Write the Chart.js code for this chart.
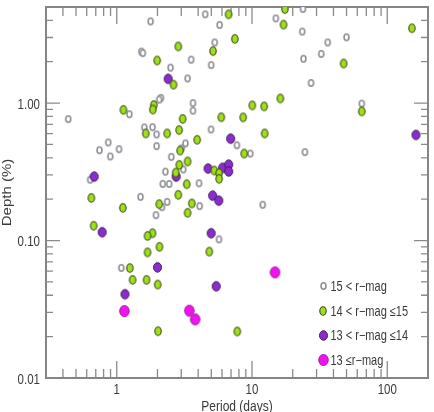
<!DOCTYPE html>
<html>
<head>
<meta charset="utf-8">
<script src="https://cdn.jsdelivr.net/npm/chart.js@4"></script>
<style>
  html, body { margin: 0; padding: 0; background: #fff; }
  canvas { display: block; }
</style>
</head>
<body>
<canvas id="grafico" width="434" height="412"></canvas>
<script>
// 15 < r-mag (circulos abertos cinza)
const periodoCinza = [1.78, 1.52, 1.56, 2.50, 3.34, 3.55, 4.99, 5.30, 4.51, 5.76, 15.0, 23.8, 23.5, 36.3, 49.9, 32.5, 24.0, 27.3, 64.8, 2.12,
    2.06, 3.66, 3.66, 1.24, 0.438, 1.60, 1.84, 1.97, 4.98, 1.97, 0.745, 0.865, 0.896, 1.04, 2.53, 3.22, 3.02, 7.73, 9.71, 24.6,
    3.10, 2.29, 2.19, 2.44, 4.06, 0.636, 1.50, 2.36, 2.16, 4.10, 12.0, 1.95, 5.70, 1.08];
const profCinza = [3.93, 2.37, 2.31, 1.81, 1.51, 2.07, 1.89, 2.76, 4.42, 3.70, 4.13, 4.84, 3.31, 2.76, 3.01, 2.28, 2.10, 1.40, 0.99, 1.09,
    1.06, 1.00, 0.88, 0.83, 0.765, 0.665, 0.668, 0.591, 0.643, 0.486, 0.454, 0.517, 0.409, 0.462, 0.406, 0.509, 0.468, 0.493, 0.429, 0.440,
    0.329, 0.317, 0.258, 0.258, 0.261, 0.277, 0.208, 0.191, 0.175, 0.178, 0.182, 0.153, 0.102, 0.0632];

// 14 < r-mag <= 15 (verde)
const periodoVerde = [1.99, 2.63, 2.85, 5.15, 6.71, 7.47, 17.5, 17.1, 47.6, 152, 64.8, 16.2, 10.05, 12.3, 5.93, 8.60, 3.07, 1.88, 1.85, 1.12,
    3.93, 2.89, 2.36, 1.64, 12.4, 8.75, 2.94, 3.34, 2.90, 2.73, 5.26, 5.71, 5.71, 3.29, 2.85, 0.649, 1.11, 2.06, 3.59, 3.34,
    0.675, 1.84, 1.69, 2.07, 1.69, 4.83, 1.25, 1.31, 1.66, 2.01, 2.02, 7.78];
const profVerde = [2.04, 1.36, 2.58, 2.39, 4.42, 2.93, 4.83, 3.72, 1.94, 3.50, 0.870, 1.08, 0.962, 0.946, 0.788, 0.787, 0.767, 0.967, 0.897, 0.892,
    0.540, 0.636, 0.601, 0.601, 0.601, 0.429, 0.451, 0.376, 0.355, 0.312, 0.323, 0.309, 0.281, 0.257, 0.215, 0.204, 0.173, 0.184, 0.186, 0.159,
    0.128, 0.113, 0.108, 0.090, 0.082, 0.083, 0.063, 0.0517, 0.0517, 0.0478, 0.0219, 0.0218];

// 13 < r-mag <= 14 (roxo)
const periodoRoxo = [2.40, 0.681, 2.75, 4.73, 6.06, 6.72, 6.72, 6.95, 5.12, 5.68, 4.99, 163, 0.780, 2.00, 5.44, 1.15];
const profRoxo = [1.50, 0.292, 0.292, 0.334, 0.338, 0.357, 0.318, 0.551, 0.212, 0.195, 0.113, 0.587, 0.115, 0.0638, 0.0465, 0.0407];

// 13 <= r-mag (magenta)
const periodoMagenta = [1.14, 3.44, 3.80, 14.8];
const profMagenta = [0.0307, 0.0309, 0.0267, 0.0587];

const ticksX = [1, 10, 100];
const ticksY = [0.01, 0.1, 1];
const rotulosY = ['0.01', '0.10', '1.00'];
const legendas = ['15 < r\u2212mag', '14 < r\u2212mag \u226415', '13 < r\u2212mag \u226414', '13 \u2264r\u2212mag'];

function pontos(px, py) {
    return px.map((p, i) => ({ x: p, y: py[i] }));
}

// marcador eliptico (a figura original e um pouco esticada na vertical)
function marcador(w, h, fill, stroke, lw) {
    const c = document.createElement('canvas');
    c.width = Math.ceil(w) + 2;
    c.height = Math.ceil(h) + 2;
    const g = c.getContext('2d');
    g.beginPath();
    g.ellipse(c.width / 2, c.height / 2, w / 2 - lw / 2, h / 2 - lw / 2, 0, 0, Math.PI * 2);
    g.fillStyle = fill;
    g.fill();
    g.lineWidth = lw;
    g.strokeStyle = stroke;
    g.stroke();
    return c;
}

const mCinza = marcador(6.5, 8, '#ffffff', '#8e8e98', 1.6);
const mVerde = marcador(7.5, 9.5, '#9de01c', '#3e4a12', 1.1);
const mRoxo = marcador(9, 10.5, '#8b2dcc', '#401a5e', 1);
const mMagenta = marcador(10.5, 12, '#f012f0', '#a01aa0', 1);
const marcas = [mCinza, mVerde, mRoxo, mMagenta];

function texto(ctx, s, x, y, align, size, rot) {
    ctx.save();
    ctx.translate(x, y);
    if (rot) {
        ctx.rotate(-Math.PI / 2);
        ctx.scale(1.25, 1);
        ctx.textBaseline = 'middle';
    } else {
        ctx.scale(1, 1.25);
    }
    ctx.font = size + 'px "Liberation Sans", Arial, sans-serif';
    ctx.textAlign = align;
    ctx.fillStyle = '#3a3a3a';
    ctx.fillText(s, 0, 0);
    ctx.restore();
}

const eixos = {
    id: 'eixos',
    beforeDatasetsDraw(chart) {
        const { ctx, chartArea: a, scales: { x, y } } = chart;
        ctx.save();
        ctx.strokeStyle = '#8a8a8a';
        ctx.lineWidth = 1.3;
        ctx.beginPath();
        [0.1, 1, 10, 100].forEach(d => {
            for (let k = 1; k <= 9; k++) {
                const v = d * k;
                if (v <= x.min * 1.01 || v >= x.max * 0.99) continue;
                const px = x.getPixelForValue(v);
                const len = k === 1 ? 17 : 9;
                ctx.moveTo(px, a.bottom); ctx.lineTo(px, a.bottom - len);
                ctx.moveTo(px, a.top); ctx.lineTo(px, a.top + len);
            }
        });
        [0.01, 0.1, 1].forEach(d => {
            for (let k = 1; k <= 9; k++) {
                const v = d * k;
                if (v <= y.min * 1.01 || v >= y.max * 0.99) continue;
                const py = y.getPixelForValue(v);
                const len = k === 1 ? 14 : 7;
                ctx.moveTo(a.left, py); ctx.lineTo(a.left + len, py);
                ctx.moveTo(a.right, py); ctx.lineTo(a.right - len, py);
            }
        });
        ctx.stroke();
        ctx.lineWidth = 2;
        ctx.strokeStyle = '#858585';
        ctx.strokeRect(a.left, a.top, a.right - a.left, a.bottom - a.top);
        ctx.restore();
    },
    afterDraw(chart) {
        const { ctx, chartArea: a, scales: { x, y } } = chart;
        ticksX.forEach(v => texto(ctx, String(v), x.getPixelForValue(v), a.bottom + 16, 'center', 11.5));
        ticksY.forEach((v, i) => texto(ctx, rotulosY[i], a.left - 6, y.getPixelForValue(v) + 5.5, 'right', 11.5));
        texto(ctx, 'Period (days)', (a.left + a.right) / 2, 411, 'center', 12);
        texto(ctx, 'Depth (%)', 7.5, (a.top + a.bottom) / 2, 'center', 12, true);

        // legenda dentro da area do grafico
        const dy = [92, 66.7, 42.7, 17.7];
        legendas.forEach((s, i) => {
            const m = marcas[i];
            const my = a.bottom - dy[i];
            ctx.drawImage(m, Math.round(a.right - 105 - m.width / 2), Math.round(my - m.height / 2));
            texto(ctx, s, a.right - 97.5, my + 4.9, 'left', 11);
        });
    }
};

const ctx = document.getElementById('grafico');

new Chart(ctx, {
    type: 'scatter',
    data: {
        datasets: [
            { label: legendas[0], data: pontos(periodoCinza, profCinza), pointStyle: mCinza, order: 4 },
            { label: legendas[1], data: pontos(periodoVerde, profVerde), pointStyle: mVerde, order: 1 },
            { label: legendas[2], data: pontos(periodoRoxo, profRoxo), pointStyle: mRoxo, order: 2 },
            { label: legendas[3], data: pontos(periodoMagenta, profMagenta), pointStyle: mMagenta, order: 0 }
        ]
    },
    options: {
        responsive: false,
        animation: false,
        layout: { padding: { left: 46, top: 7, right: 6, bottom: 34 } },
        scales: {
            x: { type: 'logarithmic', min: 0.3, max: 200, display: false },
            y: { type: 'logarithmic', min: 0.01, max: 5, display: false }
        },
        plugins: {
            legend: { display: false },
            tooltip: { enabled: false }
        }
    },
    plugins: [eixos]
});
</script>
</body>
</html>
